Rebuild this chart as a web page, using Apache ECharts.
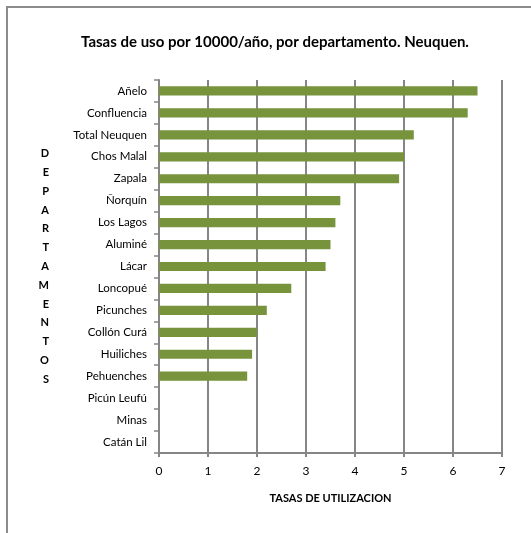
<!DOCTYPE html>
<html>
<head>
<meta charset="utf-8">
<script src="https://cdn.jsdelivr.net/npm/echarts@6/dist/echarts.min.js"></script>
<style>
  html, body { margin: 0; padding: 0; background: #fff; }
  #chart { width: 531px; height: 533px; }
</style>
</head>
<body>
<div id="chart"></div>
<script>
// departamentos, de arriba hacia abajo
const departamentos = [
  "Añelo", "Confluencia", "Total Neuquen", "Chos Malal", "Zapala",
  "Ñorquín", "Los Lagos", "Aluminé", "Lácar", "Loncopué",
  "Picunches", "Collón Curá", "Huiliches", "Pehuenches",
  "Picún Leufú", "Minas", "Catán Lil"
];
// tasas por 10000/año
const tasas = [6.5, 6.3, 5.2, 5.0, 4.9, 3.7, 3.6, 3.5, 3.4, 2.7, 2.2, 2.0, 1.9, 1.8, 0, 0, 0];
const ejeX = { min: 0, max: 7, interval: 1 };

const fuente = 'Lato, "Open Sans", sans-serif';
const gris = "#868686";

const chart = echarts.init(document.getElementById("chart"));
chart.setOption({
  animation: false,
  backgroundColor: "#fff",
  title: {
    text: "Tasas de uso por 10000/año, por departamento. Neuquen.",
    left: 270,
    textAlign: "center",
    top: 30,
    textStyle: { fontFamily: fuente, fontSize: 15, fontWeight: "bold", color: "#000" }
  },
  graphic: [
    {
      type: "polyline",
      shape: { points: [[7, 533], [7, 7], [531, 7]] },
      style: { stroke: "#8c8c8c", lineWidth: 2, fill: null }
    }
  ],
  grid: { left: 159, right: 29, top: 80, bottom: 80 },
  xAxis: {
    type: "value",
    min: ejeX.min,
    max: ejeX.max,
    interval: ejeX.interval,
    name: "TASAS DE UTILIZACION",
    nameLocation: "middle",
    nameGap: 40,
    nameTextStyle: { fontFamily: fuente, fontSize: 11, fontWeight: "bold", color: "#000" },
    axisLine: { show: true, lineStyle: { color: gris, width: 2 } },
    axisTick: { show: true, length: 4, lineStyle: { color: gris, width: 2 } },
    axisLabel: { fontFamily: fuente, fontSize: 12, color: "#000", margin: 12 },
    splitLine: { show: true, lineStyle: { color: gris, width: 2 } }
  },
  yAxis: {
    type: "category",
    inverse: true,
    data: departamentos,
    name: "DEPARTAMENTOS".split("").join("\n"),
    nameLocation: "middle",
    nameRotate: 0,
    nameGap: 110,
    nameTextStyle: { fontFamily: fuente, fontSize: 11, fontWeight: "bold", color: "#000", lineHeight: 18.8 },
    axisLine: { show: true, lineStyle: { color: gris, width: 2 } },
    axisTick: { show: true, length: 5, alignWithLabel: false, lineStyle: { color: gris, width: 1.5 } },
    axisLabel: { fontFamily: fuente, fontSize: 11.5, color: "#000", margin: 12 }
  },
  series: [
    {
      type: "bar",
      data: tasas,
      barCategoryGap: "58%",
      itemStyle: { color: "#77933c" }
    }
  ]
});
</script>
</body>
</html>
